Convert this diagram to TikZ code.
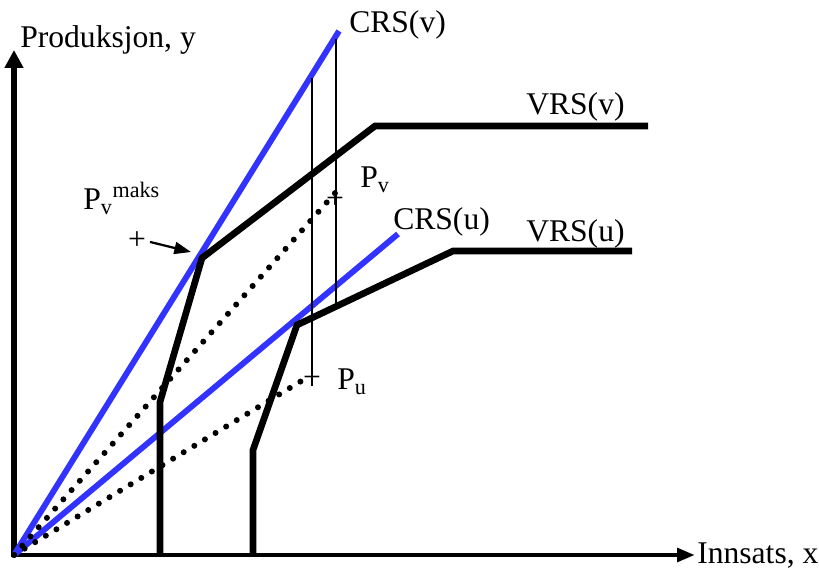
\documentclass[tikz,border=0pt]{standalone}
\usepackage{fontspec}
\setmainfont{Liberation Serif}
\usetikzlibrary{arrows.meta}
\definecolor{crsblue}{RGB}{51,51,255}
\begin{document}
\begin{tikzpicture}[x=0.75pt, y=-0.75pt,
        akse/.style={line width=4pt},
        crs/.style={crsblue, line width=4.4pt},
        vrs/.style={line width=5pt},
        hjelp/.style={line width=1.7pt},
        prikk/.style={line width=4.5pt, line cap=round, dash pattern=on 0pt off 9.3pt},
        etikett/.style={font=\fontsize{23.7}{28}\selectfont, inner sep=0pt}]
        \useasboundingbox (0,0) rectangle (819,574);
        % akser
        \coordinate (O) at (14,555);
        \coordinate (xend) at (695,555);
        \coordinate (yend) at (14,50);
        \draw[akse, -{Triangle[length=13.5pt, width=13.5pt]}] (14,557) -- (yend);
        \draw[akse, line width=3.6pt, -{Triangle[length=13.5pt, width=10pt]}] (O) -- (xend);
        \node[etikett, anchor=base west] (ylab) at (20,48) {Produksjon, y};
        \node[etikett, anchor=base west] (xlab) at (697,563) {Innsats, x};
        % CRS
        \coordinate (cv) at (339,31);
        \coordinate (cu) at (398,234);
        \draw[crs] (O) -- (cv);
        \draw[crs] (O) -- (cu);
        \node[etikett, anchor=base west] (crsv) at (349,33) {CRS(v)};
        \node[etikett, anchor=base west] (crsu) at (393,230) {CRS(u)};
        % VRS(v)
        \coordinate (v0) at (160,555);
        \coordinate (v1) at (160,402);
        \coordinate (v2) at (202,258);
        \coordinate (v3) at (375,126);
        \coordinate (v4) at (648,126);
        \draw[vrs] (v0) -- (v1) -- (v2) -- (v3) -- (v4);
        \node[etikett, anchor=base west] (vrsv) at (526,115) {VRS(v)};
        % VRS(u)
        \coordinate (u0) at (253,555);
        \coordinate (u1) at (253,450);
        \coordinate (u2) at (297,325);
        \coordinate (u3) at (453,251);
        \coordinate (u4) at (632,251);
        \draw[vrs] (u0) -- (u1) -- (u2) -- (u3) -- (u4);
        \node[etikett, anchor=base west] (vrsu) at (526,242) {VRS(u)};
        % hjelpelinjer
        \coordinate (a1) at (312,78);
        \coordinate (a2) at (312,386);
        \coordinate (b1) at (336,39);
        \coordinate (b2) at (336,303);
        \draw[hjelp] (a1) -- (a2);
        \draw[hjelp] (b1) -- (b2);
        % observasjoner
        \coordinate (Pv) at (336,192);
        \coordinate (Pu) at (303,380);
        \draw[prikk] (O) -- (Pv);
        \draw[prikk] (O) -- (Pu);
        \node[etikett] (plusv) at (335,200) {+};
        \node[etikett] (plusu) at (312,379) {+};
        \node[etikett, anchor=base west] (pv) at (360,188) {P\textsubscript{v}};
        \node[etikett, anchor=base west] (pu) at (337,390) {P\textsubscript{u}};
        % P_v maks
        \node[etikett] (plusm) at (137,241) {+};
        \node[etikett, anchor=base west] (pmaks) at (83,210) {P\textsubscript{v}\textsuperscript{maks}};
        \coordinate (pil) at (191,252);
        \draw[hjelp, -{Triangle[length=12.5pt, width=9pt]}, shorten <=3pt] (plusm.east) -- (pil);
    \end{tikzpicture}
\end{document}
